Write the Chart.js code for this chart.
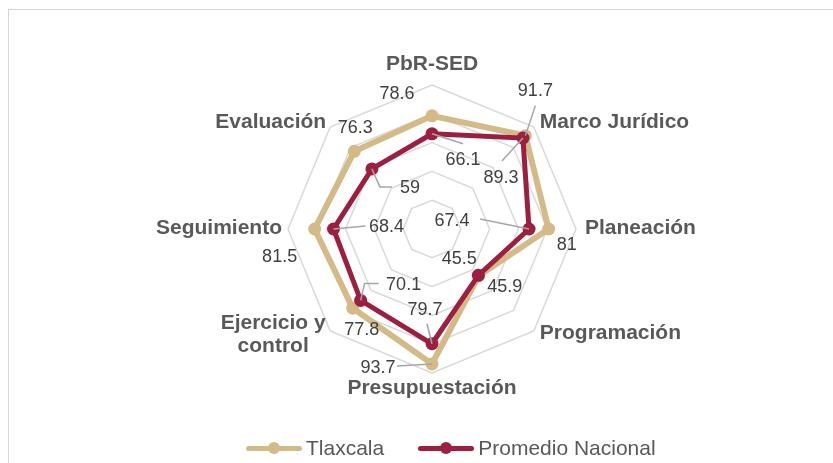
<!DOCTYPE html>
<html lang="es">
<head>
<meta charset="utf-8">
<title>PbR-SED Tlaxcala</title>
<script src="https://cdn.jsdelivr.net/npm/chart.js@4.4.0/dist/chart.umd.min.js"></script>
<style>
  body { margin: 0; background: #fff; font-family: "Liberation Sans", Arial, sans-serif; }
  #marco { position: absolute; left: 8px; top: 9px; width: 900px; height: 500px; border-left: 1px solid #d6d6d6; border-top: 1px solid #d6d6d6; }
  #grafico { position: absolute; left: 0; top: 0; }
  #leyenda { position: absolute; left: 246px; top: 436px; display: flex; align-items: center; gap: 34px; font-size: 21px; color: #595959; line-height: 24px; }
  .item { display: flex; align-items: center; gap: 4px; }
  .marca { position: relative; width: 56px; height: 5px; border-radius: 3px; }
  .marca span { position: absolute; left: 22px; top: -3.5px; width: 12px; height: 12px; border-radius: 50%; }
</style>
</head>
<body>
<div id="marco"></div>
<canvas id="grafico" width="833" height="463"></canvas>
<div id="leyenda">
  <div class="item"><div class="marca" style="background:#d4ba87"><span style="background:#d4ba87"></span></div>Tlaxcala</div>
  <div class="item"><div class="marca" style="background:#9c1f40"><span style="background:#9c1f40"></span></div>Promedio Nacional</div>
</div>
<script>
// datos
const categorias = ['PbR-SED', 'Marco Jurídico', 'Planeación', 'Programación', 'Presupuestación', ['Ejercicio y', 'control'], 'Seguimiento', 'Evaluación'];
const tlaxcala = [78.6, 91.7, 81, 45.9, 93.7, 77.8, 81.5, 76.3];
const promedioNacional = [66.1, 89.3, 67.4, 45.5, 79.7, 70.1, 68.4, 59];

const colorTlax = '#d4ba87';
const colorNac = '#9c1f40';

// posicion de los nombres de eje respecto al vertice exterior
const posEjes = [[0, -21, 'center'], [6, -5, 'left'], [9, -1, 'left'], [6, 2, 'left'], [0, 15, 'center'], [-57, 4, 'center'], [-6, -1, 'right'], [-4, -5, 'right']];

// desplazamiento de las etiquetas de valor respecto a cada punto
const despTlax = [[-35, -22], [10, -45], [18, 16], [26, 11], [-54, 4], [9, 22], [-35, 28], [1, -23]];
const despNac = [[31, 26], [-22, 40], [-77, -8], [-19, -16], [-7, -34], [43, -15], [53, -2], [38, 19]];

// lineas guia (relativas al punto)
const guiaTlax = [null, [[10, -30], [0, 0]], null, null, [[-35, 2], [0, 0]], null, null, null];
const guiaNac = [[[0, 0], [31, 10]], [[-21, 23], [0, 0]], [[-49, -10], [0, 0]], null, [[-5, -20], [0, 0]], [[0, 0], [4, -17], [18, -17]], [[0, 0], [32, -3]], [[0, 0], [8, 18], [20, 18]]];

const etiquetasEjes = {
  id: 'etiquetasEjes',
  afterDraw(chart) {
    const r = chart.scales.r;
    const ctx = chart.ctx;
    ctx.save();
    ctx.font = 'bold 21px "Liberation Sans", Arial, sans-serif';
    ctx.fillStyle = '#595959';
    ctx.textBaseline = 'middle';
    categorias.forEach((cat, i) => {
      const p = r.getPointPosition(i, r.drawingArea);
      const [dx, dy, align] = posEjes[i];
      const lineas = Array.isArray(cat) ? cat : [cat];
      ctx.textAlign = align;
      const alto = 23.4;
      lineas.forEach((t, k) => {
        const y = p.y + dy + (k - (lineas.length - 1) / 2) * alto;
        ctx.fillText(t, p.x + dx, y);
      });
    });
    ctx.restore();
  }
};

const etiquetasValores = {
  id: 'etiquetasValores',
  afterDatasetsDraw(chart) {
    const ctx = chart.ctx;
    const desp = [despTlax, despNac];
    const guias = [guiaTlax, guiaNac];
    ctx.save();
    chart.data.datasets.forEach((ds, d) => {
      const meta = chart.getDatasetMeta(d);
      meta.data.forEach((pt, i) => {
        const g = guias[d][i];
        if (g) {
          ctx.strokeStyle = '#a6a6a6';
          ctx.lineWidth = 1.5;
          ctx.beginPath();
          g.forEach(([gx, gy], k) => {
            if (k === 0) ctx.moveTo(pt.x + gx, pt.y + gy);
            else ctx.lineTo(pt.x + gx, pt.y + gy);
          });
          ctx.stroke();
        }
      });
    });
    ctx.font = '18px "Liberation Sans", Arial, sans-serif';
    ctx.fillStyle = '#404040';
    ctx.textAlign = 'center';
    ctx.textBaseline = 'middle';
    chart.data.datasets.forEach((ds, d) => {
      const meta = chart.getDatasetMeta(d);
      meta.data.forEach((pt, i) => {
        const [dx, dy] = desp[d][i];
        ctx.fillText(String(ds.data[i]), pt.x + dx, pt.y + dy);
      });
    });
    ctx.restore();
  }
};

const ctx = document.getElementById('grafico').getContext('2d');
new Chart(ctx, {
  type: 'radar',
  data: {
    labels: categorias,
    datasets: [
      {
        label: 'Tlaxcala',
        data: tlaxcala,
        borderColor: colorTlax,
        backgroundColor: colorTlax,
        pointBackgroundColor: colorTlax,
        pointBorderColor: colorTlax,
        borderWidth: 6,
        pointRadius: 6.5,
        pointBorderWidth: 0,
        fill: false,
        order: 1
      },
      {
        label: 'Promedio Nacional',
        data: promedioNacional,
        borderColor: colorNac,
        backgroundColor: colorNac,
        pointBackgroundColor: colorNac,
        pointBorderColor: colorNac,
        borderWidth: 5,
        pointRadius: 6.5,
        pointBorderWidth: 0,
        fill: false,
        order: 0
      }
    ]
  },
  options: {
    responsive: false,
    animation: false,
    layout: { padding: { left: 288, right: 257, top: 85, bottom: 90 } },
    plugins: {
      legend: { display: false },
      tooltip: { enabled: false }
    },
    scales: {
      r: {
        min: 0,
        max: 100,
        ticks: { display: false, stepSize: 20 },
        angleLines: { display: false },
        grid: { color: '#d9d9d9', lineWidth: 1.5 },
        pointLabels: { display: false }
      }
    }
  },
  plugins: [etiquetasEjes, etiquetasValores]
});
</script>
</body>
</html>
